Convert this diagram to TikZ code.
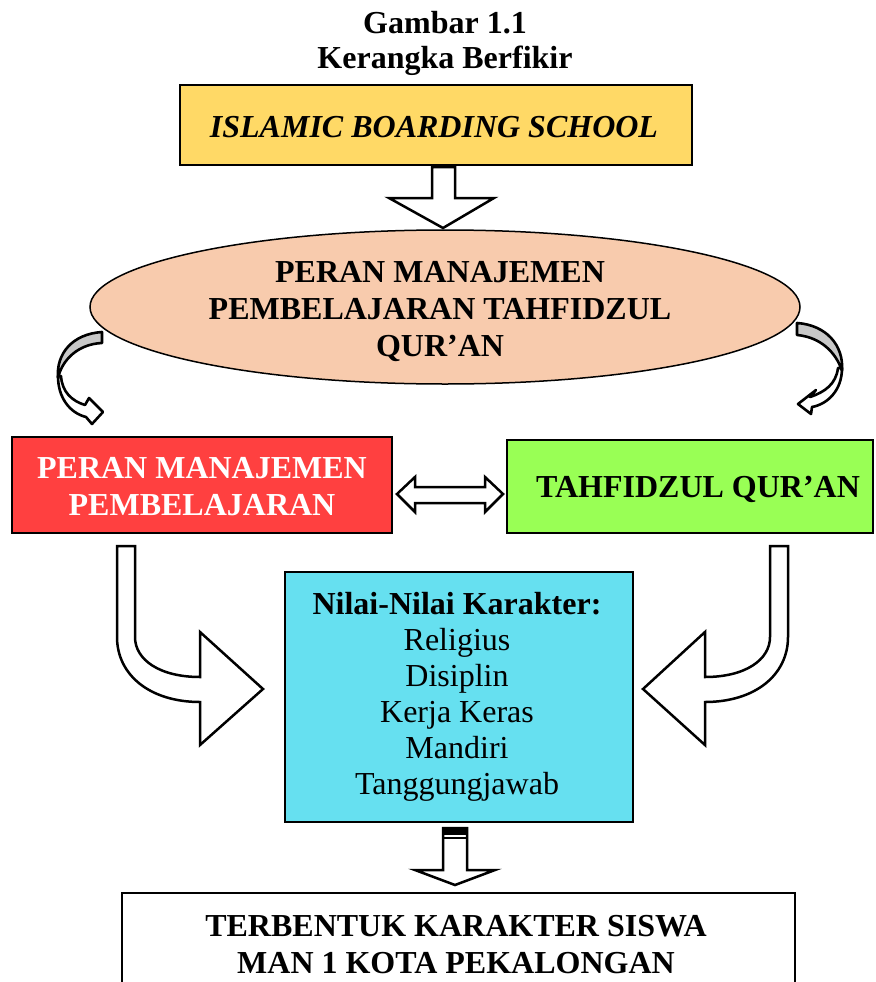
\documentclass[tikz,border=0pt]{standalone}
\usepackage{fontspec}
\setmainfont{Liberation Serif}
\usetikzlibrary{shapes.geometric}
\definecolor{cyellow}{HTML}{FFD966}
\definecolor{cpeach}{HTML}{F8CBAD}
\definecolor{cred}{HTML}{FF4040}
\definecolor{cgreen}{HTML}{99FF55}
\definecolor{ccyan}{HTML}{66E0F0}
\definecolor{cgray}{HTML}{C8C8C8}
\begin{document}
\begin{tikzpicture}[x=1pt,y=-1pt,
  txtb/.style={font=\fontsize{32}{37}\selectfont\bfseries, align=center, inner sep=0},
  box/.style={draw=black, line width=2, inner sep=0, align=center, font=\fontsize{32}{37}\selectfont\bfseries},
  blockarr/.style={draw=black, line width=2.5, fill=white, line join=miter},
  curvarr/.style={draw=black, line width=2.6, line join=round}]
\clip (0,0) rectangle (875,982);
\fill[white] (0,0) rectangle (875,982);

% title
\node[txtb] (t1) at (445,23) {Gambar 1.1};
\node[txtb] (t2) at (445,61) {Kerangka Berfikir};

% top box
\node[box, fill=cyellow, minimum width=512, minimum height=80] (isb) at (436,125) {};
\node[txtb, font=\fontsize{32}{37}\selectfont\bfseries\itshape] (isbt) at (434,127) {ISLAMIC BOARDING SCHOOL};

% down arrow 1
\draw[blockarr] (432,167) -- (455,167) -- (455,198) -- (494,198) -- (443,228) -- (389,198) -- (432,198) -- cycle;

% ellipse
\node[draw=black, line width=1.5, fill=cpeach, ellipse, minimum width=710, minimum height=154, inner sep=0] (ell) at (445,307) {};
\node[txtb] (ellt) at (440,312) {PERAN MANAJEMEN\\PEMBELAJARAN TAHFIDZUL\\QUR’AN};

% left curved arrow
\draw[curvarr, fill=white] (58,376) .. controls (58,398) and (70,413) .. (86,417) -- (92,424) -- (103,412) -- (89,398) -- (85,405) .. controls (72,401) and (62,392) .. (61,376) -- cycle;
\draw[curvarr, fill=cgray] (102,332) .. controls (72,334) and (56,354) .. (58,378) .. controls (62,360) and (78,344) .. (102,343) -- cycle;

% right curved arrow
\draw[curvarr, fill=white] (842,368) .. controls (842,390) and (828,404) .. (812,407) -- (811,414) -- (798,404) -- (816,390) -- (810,397) .. controls (825,392) and (836,384) .. (838,368) -- cycle;
\draw[curvarr, fill=cgray] (797,323) .. controls (826,325) and (844,345) .. (842,371) .. controls (836,352) and (820,337) .. (797,335) -- cycle;

% red box
\node[box, fill=cred, minimum width=380, minimum height=96] (red) at (202,485) {};
\node[txtb, text=white] (redt) at (202,487) {PERAN MANAJEMEN\\PEMBELAJARAN};

% green box
\node[box, fill=cgreen, minimum width=366, minimum height=93] (green) at (690,486.5) {};
\node[txtb] (greent) at (698,489) {TAHFIDZUL QUR’AN};

% double arrow
\draw[blockarr] (397,494) -- (415,477) -- (415,487) -- (485,487) -- (485,477) -- (503,494) -- (485,512) -- (485,503) -- (415,503) -- (415,512) -- cycle;

% cyan box
\node[box, fill=ccyan, minimum width=348, minimum height=250] (cyan) at (459,697) {};
\node[inner sep=0, align=center, font=\fontsize{32}{36}\selectfont] (cyant) at (457,697) {\textbf{Nilai-Nilai Karakter:}\\Religius\\Disiplin\\Kerja Keras\\Mandiri\\Tanggungjawab};

% left bent arrow
\draw[blockarr] (117,546) -- (135,546) -- (135,637) .. controls (135,660) and (160,677) .. (200,677) -- (200,632) -- (263,689) -- (200,745) -- (200,702) .. controls (150,702) and (117,675) .. (117,637) -- cycle;

% right bent arrow
\draw[blockarr] (788,546) -- (770,546) -- (770,637) .. controls (770,660) and (745,677) .. (705,677) -- (705,632) -- (643,689) -- (705,745) -- (705,702) .. controls (755,702) and (788,675) .. (788,637) -- cycle;

% bottom down arrow
\draw[blockarr] (443,828) -- (467,828) -- (467,870) -- (495,870) -- (455,885) -- (415,870) -- (443,870) -- cycle;
\fill[black] (443,828) rectangle (467,835);
\draw[line width=2] (443,838) -- (467,838);

% bottom box
\node[box, fill=white, minimum width=673, minimum height=117] (bottom) at (458.5,951.5) {};
\node[txtb] (bottomt) at (456,945) {TERBENTUK KARAKTER SISWA\\MAN 1 KOTA PEKALONGAN};
\end{tikzpicture}
\end{document}
